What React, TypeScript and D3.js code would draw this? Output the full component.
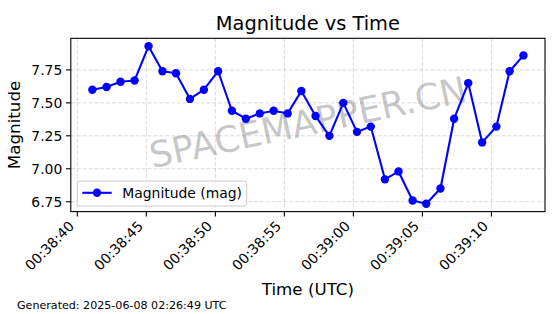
import React from 'react';
import * as d3 from 'd3';

const TIMES = [
  '00:38:41.090', '00:38:42.120', '00:38:43.130', '00:38:44.150', '00:38:45.160', '00:38:46.170',
  '00:38:47.150', '00:38:48.160', '00:38:49.170', '00:38:50.200', '00:38:51.200', '00:38:52.210',
  '00:38:53.220', '00:38:54.220', '00:38:55.240', '00:38:56.230', '00:38:57.260', '00:38:58.260',
  '00:38:59.270', '00:39:00.260', '00:39:01.260', '00:39:02.290', '00:39:03.270', '00:39:04.290',
  '00:39:05.280', '00:39:06.310', '00:39:07.300', '00:39:08.320', '00:39:09.330', '00:39:10.360',
  '00:39:11.320', '00:39:12.320',
];
const MAGNITUDES = [
  7.60, 7.62, 7.66, 7.67, 7.93, 7.74,
  7.725, 7.53, 7.60, 7.74, 7.44, 7.38,
  7.42, 7.44, 7.42, 7.59, 7.40, 7.25,
  7.50, 7.28, 7.32, 6.92, 6.98, 6.76,
  6.735, 6.85, 7.38, 7.65, 7.20, 7.32,
  7.74, 7.86,
];
const X_TICKS = ['00:38:40', '00:38:45', '00:38:50', '00:38:55', '00:39:00', '00:39:05', '00:39:10'];
const Y_TICKS = [6.75, 7.0, 7.25, 7.5, 7.75];

const W = 560;
const H = 314;
const M = { left: 70.8, right: 545, top: 38.3, bottom: 211.6 };
const FONT = "'DejaVu Sans', sans-serif";

const parseMs = d3.utcParse('%H:%M:%S.%L');
const parseS = d3.utcParse('%H:%M:%S');

function pad(ext: [number, number]): [number, number] {
  const s = ext[1] - ext[0];
  return [ext[0] - s * 0.05, ext[1] + s * 0.05];
}

export default function App() {
  const dates = TIMES.map(t => parseMs(t) as Date);
  const tNum = dates.map(d => +d);
  const x = d3.scaleLinear()
    .domain(pad(d3.extent(tNum) as [number, number]))
    .range([M.left, M.right]);
  const y = d3.scaleLinear()
    .domain(pad(d3.extent(MAGNITUDES) as [number, number]))
    .range([M.bottom, M.top]);

  const pts = tNum.map((t, i) => [x(t), y(MAGNITUDES[i])] as [number, number]);
  const line = d3.line();
  const xTicks = X_TICKS.map(s => ({ label: s, px: x(+(parseS(s) as Date)) }));

  const grid = { stroke: '#b0b0b0', strokeOpacity: 0.6, strokeWidth: 0.8, strokeDasharray: '4.1 1.8' };

  return (
    <svg width={W} height={H} style={{ position: 'fixed', left: 0, top: 0, background: '#fff' }}
      fontFamily={FONT}>
      <rect width={W} height={H} fill="#fff" />

      {/* grid */}
      {xTicks.map(t => (
        <line key={'gx' + t.label} x1={t.px} x2={t.px} y1={M.top} y2={M.bottom} {...grid} />
      ))}
      {Y_TICKS.map(v => (
        <line key={'gy' + v} x1={M.left} x2={M.right} y1={y(v)} y2={y(v)} {...grid} />
      ))}

      {/* watermark */}
      <text x={308} y={135} textAnchor="middle" fontSize={36} fill="#808080" fillOpacity={0.45}
        transform="rotate(-12 308 123)">SPACEMAPPER.CN</text>

      {/* series */}
      <path d={line(pts) || ''} fill="none" stroke="#0000ff" strokeWidth={2.1} strokeLinejoin="round" />
      {pts.map((p, i) => (
        <circle key={i} cx={p[0]} cy={p[1]} r={4.2} fill="#0000ff" />
      ))}

      {/* spines */}
      <rect x={M.left} y={M.top} width={M.right - M.left} height={M.bottom - M.top}
        fill="none" stroke="#000" strokeWidth={1.1} />

      {/* y axis */}
      {Y_TICKS.map(v => (
        <g key={'ty' + v}>
          <line x1={M.left - 4.9} x2={M.left} y1={y(v)} y2={y(v)} stroke="#000" strokeWidth={1.1} />
          <text x={M.left - 8.5} y={y(v)} dy="0.36em" textAnchor="end" fontSize={13.9} fill="#000">
            {v.toFixed(2)}
          </text>
        </g>
      ))}

      {/* x axis */}
      {xTicks.map(t => (
        <g key={'tx' + t.label}>
          <line x1={t.px} x2={t.px} y1={M.bottom} y2={M.bottom + 4.9} stroke="#000" strokeWidth={1.1} />
          <text x={t.px - 2.3} y={M.bottom + 15.5} textAnchor="end" fontSize={13.9} fill="#000"
            transform={`rotate(-45 ${t.px - 2.3} ${M.bottom + 15.5})`}>{t.label}</text>
        </g>
      ))}

      {/* legend */}
      <rect x={77.3} y={181} width={169.4} height={25} rx={2.5} fill="#fff" fillOpacity={0.8}
        stroke="#cccccc" strokeWidth={1} />
      <line x1={82.3} x2={111.7} y1={192.8} y2={192.8} stroke="#0000ff" strokeWidth={2.1} />
      <circle cx={97} cy={192.8} r={4.2} fill="#0000ff" />
      <text x={122.3} y={197.6} fontSize={13.9} fill="#000">Magnitude (mag)</text>

      {/* labels */}
      <text x={307.9} y={30} textAnchor="middle" fontSize={19.4} fill="#000">Magnitude vs Time</text>
      <text x={307.9} y={295} textAnchor="middle" fontSize={16.7} fill="#000">Time (UTC)</text>
      <text transform={`translate(19.5 ${(M.top + M.bottom) / 2}) rotate(-90)`} textAnchor="middle"
        fontSize={16.7} fill="#000">Magnitude</text>
      <text x={17} y={309} fontSize={11.1} fill="#000">Generated: 2025-06-08 02:26:49 UTC</text>
    </svg>
  );
}
